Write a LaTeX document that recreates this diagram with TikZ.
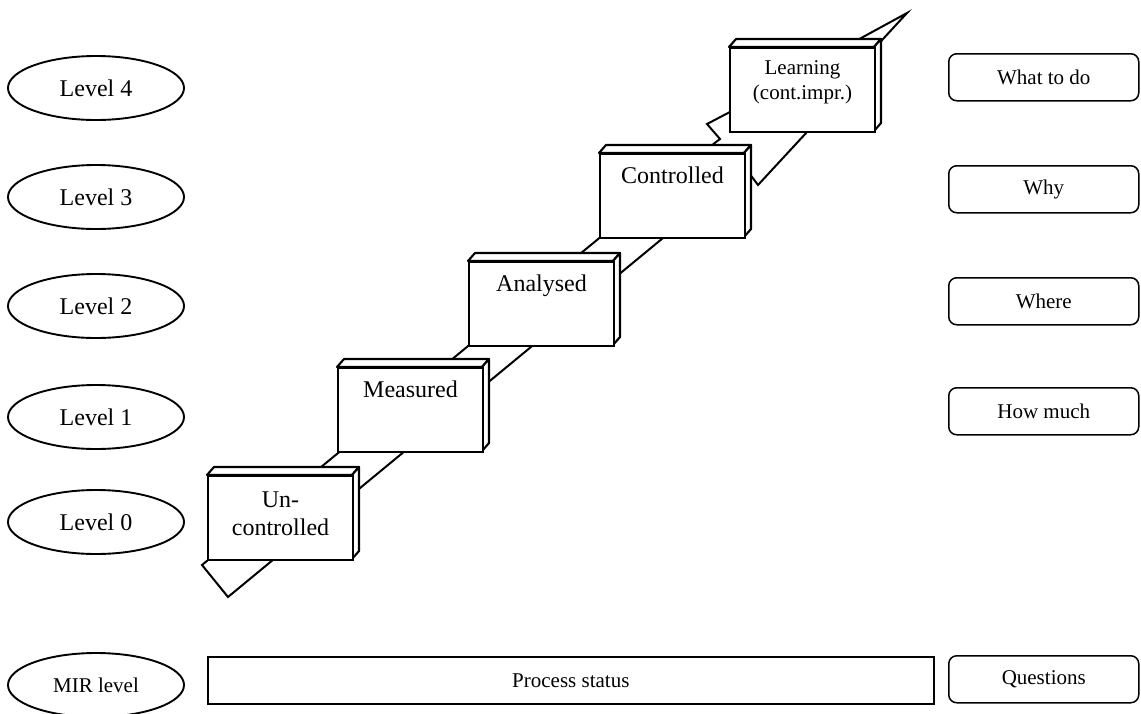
\documentclass[tikz,border=0pt]{standalone}
\usepackage{fontspec}
\setmainfont{Liberation Serif}
\usetikzlibrary{shapes.geometric}
\tikzset{
  lvl/.style={ellipse, draw, line width=1.9pt, minimum width=176pt, minimum height=64pt, inner sep=0pt, font=\fontsize{24}{28}\selectfont},
  lvlsmall/.style={lvl, font=\fontsize{21}{25}\selectfont},
  qbox/.style={rectangle, draw, rounded corners=8pt, line width=1.5pt, minimum width=190pt, minimum height=47pt, anchor=north west, inner sep=0pt, font=\fontsize{21}{25}\selectfont},
  statusbox/.style={rectangle, draw, line width=1.7pt, minimum width=726pt, minimum height=47pt, anchor=north west, inner sep=0pt, font=\fontsize{21}{25}\selectfont},
  stepbox/.style={rectangle, draw, fill=white, line width=2.1pt, minimum width=145pt, minimum height=84pt, inner sep=0pt},
  face/.style={draw, fill=white, line width=2.1pt, line join=round},
  steptext/.style={font=\fontsize{24}{28}\selectfont, align=center, inner sep=0pt},
  steptextsmall/.style={font=\fontsize{21}{25}\selectfont, align=center, inner sep=0pt},
  band/.style={draw, fill=white, line width=2pt, line join=miter},
}
\newcommand\stepblock[3]{%
  \draw[face] (#2,#3) -- ++(7,-8) -- ++(145,0) -- ++(-7,8) -- cycle;
  \draw[face] (#2+145,#3) -- ++(7,-8) -- ++(0,84) -- ++(-7,8) -- cycle;
  \node[stepbox, anchor=north west] (#1) at (#2,#3) {};
}
\begin{document}
\begin{tikzpicture}[x=1pt,y=-1pt]
\useasboundingbox (0,0) rectangle (1141,713);

% left level ellipses
\node[lvl] (lvl4) at (96,88) {Level 4};
\node[lvl] (lvl3) at (96,197) {Level 3};
\node[lvl] (lvl2) at (96,306) {Level 2};
\node[lvl] (lvl1) at (96,417) {Level 1};
\node[lvl] (lvl0) at (96,522) {Level 0};
\node[lvlsmall] (mir) at (96,685) {MIR level};

% right question boxes
\node[qbox] (q4) at (948,53) {What to do};
\node[qbox] (q3) at (948,165) {Why};
\node[qbox] (q2) at (948,277) {Where};
\node[qbox] (q1) at (948,387) {How much};
\node[qbox] (qs) at (948,655) {Questions};

% process status bar
\node[statusbox] (status) at (207,656) {Process status};

% diagonal band behind the steps
\draw[band] (228,597) -- (202,565) -- (716,142) -- (720,139) -- (707,124)
  -- (728,113) -- (863,37) -- (907,13) -- (883,39) -- (807,132)
  -- (758,185) -- (752,177) -- (663,238) -- cycle;

% steps
\stepblock{s0}{207}{475}
\node[steptext] (t0) at ([yshift=4.5pt]s0.center) {Un-\\controlled};
\stepblock{s1}{337}{367}
\node[steptext, anchor=base] (t1) at ([yshift=-30pt]s1.north) {Measured};
\stepblock{s2}{468}{261}
\node[steptext, anchor=base] (t2) at ([yshift=-30pt]s2.north) {Analysed};
\stepblock{s3}{599}{153}
\node[steptext, anchor=base] (t3) at ([yshift=-30pt]s3.north) {Controlled};
\stepblock{s4}{729}{47}
\node[steptextsmall] (t4) at ([yshift=8pt]s4.center) {Learning\\(cont.impr.)};
\end{tikzpicture}
\end{document}
